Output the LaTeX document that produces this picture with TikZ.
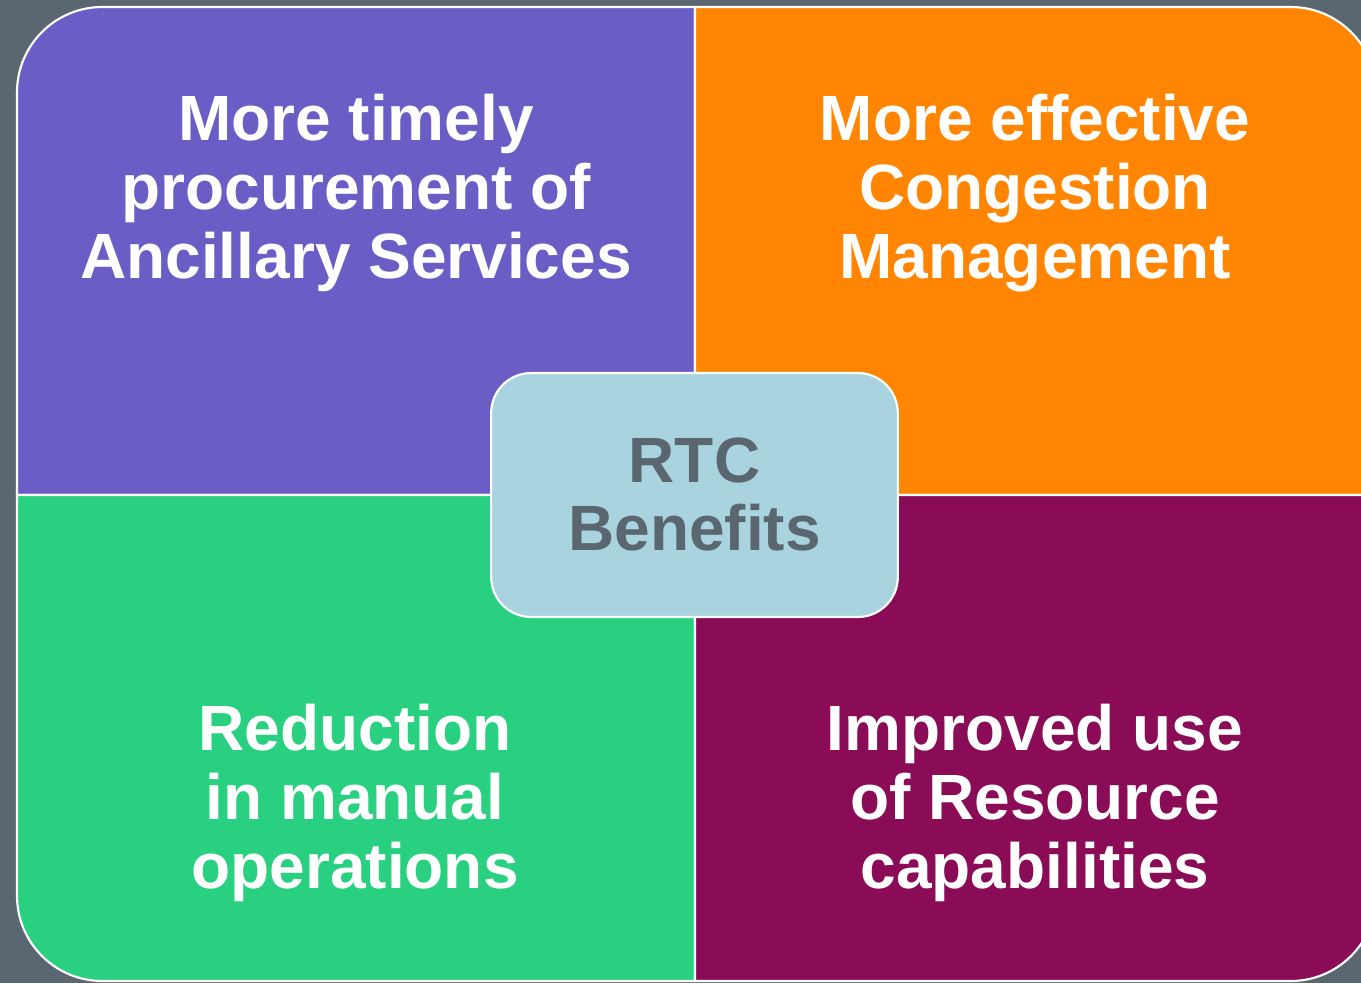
\documentclass[tikz,border=0pt]{standalone}
\usepackage{fontspec}
\setmainfont{Liberation Sans}
\definecolor{bg}{HTML}{5B6770}
\definecolor{qpurple}{HTML}{6A5EC6}
\definecolor{qorange}{HTML}{FF8502}
\definecolor{qgreen}{HTML}{29D07F}
\definecolor{qmaroon}{HTML}{8A0C56}
\definecolor{cbox}{HTML}{A8D3DF}
\definecolor{ctext}{HTML}{5B6770}
\tikzset{
  quad/.style={draw=white, line width=1.6pt},
  qlabel/.style={text=white, align=center, font=\fontsize{48}{52}\selectfont\bfseries},
  centerbox/.style={draw=white, line width=1.6pt, fill=cbox, rounded corners=30pt},
  clabel/.style={text=ctext, align=center, font=\fontsize{48}{51}\selectfont\bfseries}
}
\begin{document}
\begin{tikzpicture}[x=0.75pt,y=-0.75pt]
\useasboundingbox (0,0) rectangle (1361,983);
\clip (0,0) rectangle (1361,983);
\fill[bg] (0,0) rectangle (1361,983);
% quadrants
\path[quad, fill=qpurple] (695,495) -- (17,495) [rounded corners=64pt] -- (17,7) [sharp corners] -- (695,7) -- cycle;
\path[quad, fill=qorange] (695,495) -- (695,7) [rounded corners=64pt] -- (1376,7) [sharp corners] -- (1376,495) -- cycle;
\path[quad, fill=qgreen] (695,495) -- (17,495) [rounded corners=64pt] -- (17,981) [sharp corners] -- (695,981) -- cycle;
\path[quad, fill=qmaroon] (695,495) -- (695,981) [rounded corners=64pt] -- (1376,981) [sharp corners] -- (1376,495) -- cycle;
% labels
\node[qlabel] (tl) at (356,193) {More timely\\procurement of\\Ancillary Services};
\node[qlabel] (tr) at (1035,193) {More effective\\Congestion\\Management};
\node[qlabel] (bl) at (355,803) {Reduction\\in manual\\operations};
\node[qlabel] (br) at (1035,803) {Improved use\\of Resource\\capabilities};
% center
\node[centerbox, minimum width=305pt, minimum height=183pt] (c) at (694.5,495) {};
\node[clabel] (ct) at (694.5,494) {RTC\\Benefits};
\end{tikzpicture}
\end{document}
